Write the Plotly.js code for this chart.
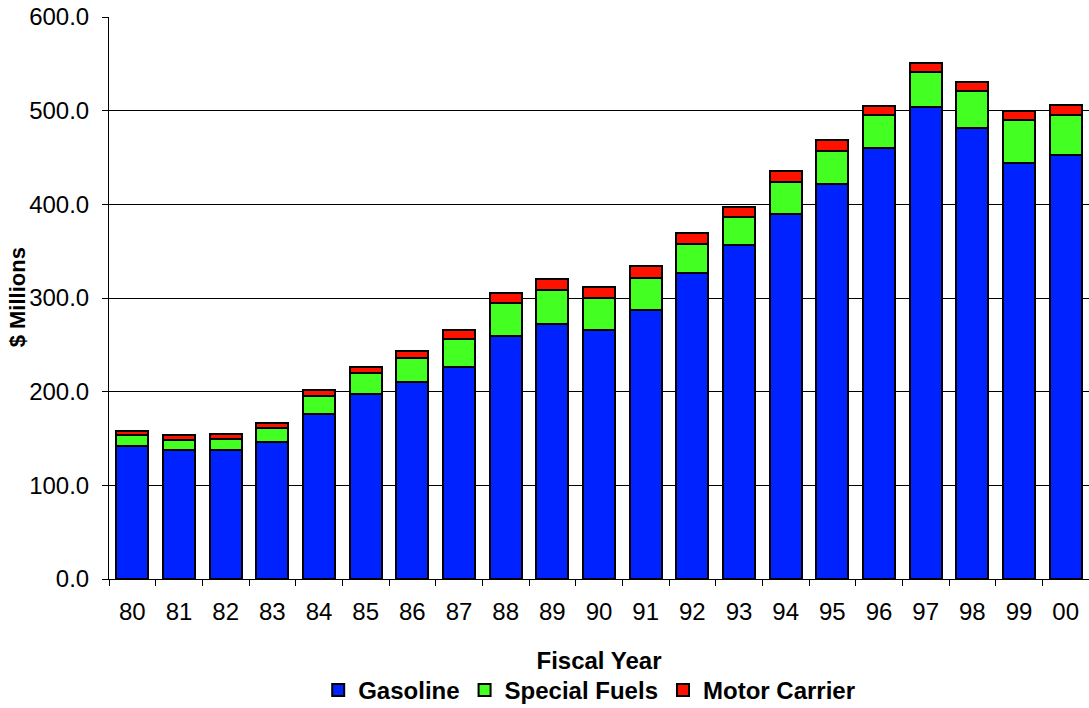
<!DOCTYPE html>
<html>
<head>
<meta charset="utf-8">
<script src="https://cdn.plot.ly/plotly-3.0.1.min.js"></script>
<style>html,body{margin:0;padding:0;background:#fff;}#chart{width:1089px;height:708px;}</style>
</head>
<body>
<div id="chart"></div>
<script>
const years = ["80","81","82","83","84","85","86","87","88","89","90","91","92","93","94","95","96","97","98","99","00"];
const gasoline = [142.5,137.7,137.4,146.6,176.3,197.2,210.7,226.7,259.8,271.9,265.5,286.8,326.3,356.6,390.0,421.3,460.5,503.9,481.1,444.6,452.7];
const specialFuels = [10.8,10.7,12.1,14.6,19.6,22.4,25.6,29.5,35.2,36.3,34.3,34.9,31.3,29.9,34.2,36.0,35.2,37.4,39.5,45.4,42.7];
const motorCarrier = [5.0,5.0,5.3,5.0,5.4,6.4,7.5,10.0,10.3,11.8,11.8,12.8,12.1,11.0,11.0,11.4,8.9,9.2,9.6,9.6,10.6];
const yTicks = [0,100,200,300,400,500,600];

const outline = {color:'#000', width:2};
const traces = [
  {type:'bar', name:'Gasoline', x:years, y:gasoline, marker:{color:'#0022ff', line:outline}},
  {type:'bar', name:'Special Fuels', x:years, y:specialFuels, marker:{color:'#44ff22', line:outline}},
  {type:'bar', name:'Motor Carrier', x:years, y:motorCarrier, marker:{color:'#ff1100', line:outline}}
];

const fam = 'Liberation Sans, Arial, sans-serif';
const font = {family:fam, size:24, color:'#000'};
const bold = {family:fam, size:24, color:'#000', weight:'bold'};
const layout = {
  width:1089, height:708,
  margin:{l:109, r:0, t:17, b:129, autoexpand:false},
  barmode:'stack', bargap:0.32,
  paper_bgcolor:'#fff', plot_bgcolor:'#fff',
  font:font,
  showlegend:true,
  legend:{orientation:'h', x:0.49, xanchor:'center', y:-0.198, yanchor:'middle',
          font:bold, itemwidth:30, tracegroupgap:0, traceorder:'normal'},
  xaxis:{type:'category', tickson:'boundaries', ticks:'outside', ticklen:6, tickcolor:'#000',
         showline:true, linecolor:'#000', linewidth:1, showgrid:false, automargin:false,
         tickfont:font, ticklabelstandoff:11,
         title:{text:'Fiscal Year', font:bold, standoff:28}},
  yaxis:{range:[0,600], tickvals:yTicks, tickformat:'.1f', ticks:'outside', ticklen:6, tickcolor:'#000',
         showline:true, linecolor:'#000', linewidth:1, showgrid:true, gridcolor:'#000', gridwidth:1,
         zeroline:false, tickfont:font, ticklabelstandoff:8, automargin:false},
  annotations:[{text:'$ Millions', textangle:-90, xref:'paper', yref:'paper', x:-0.0934, y:0.502,
                xanchor:'center', yanchor:'middle', showarrow:false,
                font:{family:fam, size:22, color:'#000', weight:'bold'}}]
};
Plotly.newPlot('chart', traces, layout, {displayModeBar:false});
</script>
</body>
</html>
